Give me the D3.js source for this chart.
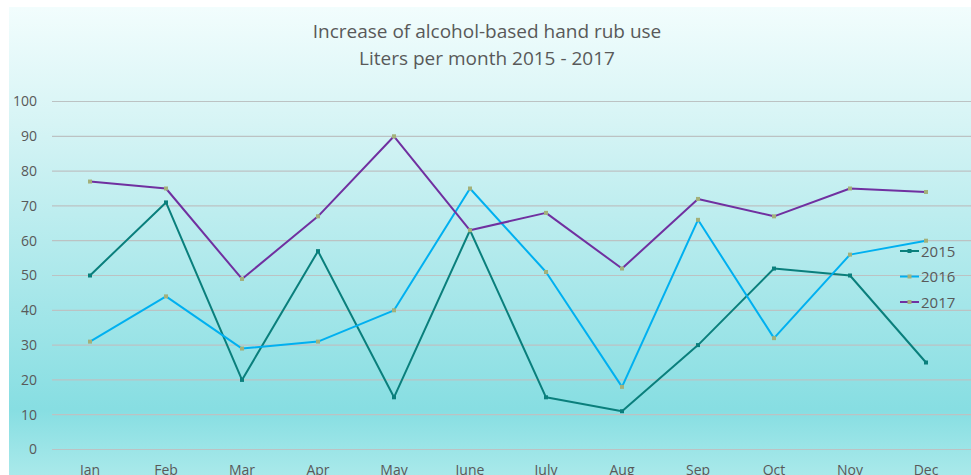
<!DOCTYPE html>
<html>
<head>
<meta charset="utf-8">
<script src="https://cdn.jsdelivr.net/npm/d3@7"></script>
<style>
  body { margin: 0; background: #fff; }
  text { font-family: "Open Sans", sans-serif; fill: #595959; }
</style>
</head>
<body>
<div id="plot"></div>
<script>
// data
const months = ["Jan", "Feb", "Mar", "Apr", "May", "June", "July", "Aug", "Sep", "Oct", "Nov", "Dec"];
const years = ["2015", "2016", "2017"];
const v2015 = [50, 71, 20, 57, 15, 63, 15, 11, 30, 52, 50, 25];
const v2016 = [31, 44, 29, 31, 40, 75, 51, 18, 66, 32, 56, 60];
const v2017 = [77, 75, 49, 67, 90, 63, 68, 52, 72, 67, 75, 74];
const yTicks = [0, 10, 20, 30, 40, 50, 60, 70, 80, 90, 100];

const w = 971;
const h = 475;
const margin = {top: 102, right: 7, bottom: 26, left: 52};

const series = [
  {name: years[0], values: v2015, color: "#0a7f7c", marker: "#0a7f7c"},
  {name: years[1], values: v2016, color: "#00b0f0", marker: "#a3b07a"},
  {name: years[2], values: v2017, color: "#7030a0", marker: "#a3b07a"}
];

const svg = d3.select("div#plot")
  .append("svg")
    .attr("width", w)
    .attr("height", h);

// background gradient
const grad = svg.append("defs")
  .append("linearGradient")
    .attr("id", "bg")
    .attr("x1", 0).attr("y1", 0).attr("x2", 0).attr("y2", 1);
grad.append("stop").attr("offset", "0%").attr("stop-color", "#f2fdfd");
grad.append("stop").attr("offset", "25%").attr("stop-color", "#d6f4f5");
grad.append("stop").attr("offset", "86%").attr("stop-color", "#87dee2");
grad.append("stop").attr("offset", "100%").attr("stop-color", "#a9e9ea");

svg.append("rect")
  .attr("x", 9)
  .attr("y", 7)
  .attr("width", w - 9)
  .attr("height", h - 7)
  .attr("fill", "url(#bg)");

const xScale = d3.scaleBand()
  .domain(months)
  .range([margin.left, margin.left + 912]);

const yScale = d3.scaleLinear()
  .domain([0, 100])
  .range([449.5, 101.5]);

// gridlines
svg.append("g")
  .selectAll("line")
  .data(yTicks)
  .enter()
  .append("line")
    .attr("x1", margin.left)
    .attr("x2", w)
    .attr("y1", d => yScale(d))
    .attr("y2", d => yScale(d))
    .attr("stroke", "#bcc2c3")
    .attr("stroke-width", 1.2);

// y axis
const yAxis = d3.axisLeft(yScale)
  .tickValues(yTicks)
  .tickSize(0)
  .tickPadding(0);

svg.append("g")
  .attr("id", "yaxis")
  .attr("transform", "translate(37, 0)")
  .call(yAxis)
  .call(g => g.select(".domain").remove())
  .selectAll("text")
    .style("font-size", "14px")
    .attr("fill", "#595959")
    .attr("text-anchor", "end");

// x axis
const xAxis = d3.axisBottom(xScale)
  .tickSize(0)
  .tickPadding(0);

svg.append("g")
  .attr("id", "xaxis")
  .attr("transform", "translate(0, 465)")
  .call(xAxis)
  .call(g => g.select(".domain").remove())
  .selectAll("text")
    .style("font-size", "14px")
    .attr("fill", "#595959");

const xc = m => xScale(m) + xScale.bandwidth() / 2;

const line = d3.line()
  .x((d, i) => xc(months[i]))
  .y(d => yScale(d));

// series lines and markers
series.forEach(s => {
  svg.append("path")
    .datum(s.values)
    .attr("fill", "none")
    .attr("stroke", s.color)
    .attr("stroke-width", 2)
    .attr("stroke-linejoin", "round")
    .attr("d", line);

  svg.append("g")
    .selectAll("rect")
    .data(s.values)
    .enter()
    .append("rect")
      .attr("x", (d, i) => xc(months[i]) - 2)
      .attr("y", d => yScale(d) - 2)
      .attr("width", 4)
      .attr("height", 4)
      .attr("fill", s.marker);
});

// legend
const legend = svg.append("g")
  .attr("transform", "translate(900, 251)");

series.forEach((s, i) => {
  const g = legend.append("g").attr("transform", `translate(0, ${i * 25.5})`);
  g.append("line")
    .attr("x1", 0).attr("x2", 19)
    .attr("y1", 0).attr("y2", 0)
    .attr("stroke", s.color)
    .attr("stroke-width", 2);
  g.append("rect")
    .attr("x", 7.5).attr("y", -2)
    .attr("width", 4).attr("height", 4)
    .attr("fill", s.marker);
  g.append("text")
    .attr("x", 21)
    .attr("y", 5.5)
    .style("font-size", "15px")
    .text(s.name);
});

// title
const title = svg.append("text")
  .attr("x", 487)
  .attr("text-anchor", "middle")
  .style("font-size", "19px")
  .attr("fill", "#404040");
title.append("tspan").attr("x", 487).attr("y", 38).text("Increase of alcohol-based hand rub use");
title.append("tspan").attr("x", 487).attr("y", 65).text("Liters per month 2015 - 2017");
</script>
</body>
</html>
